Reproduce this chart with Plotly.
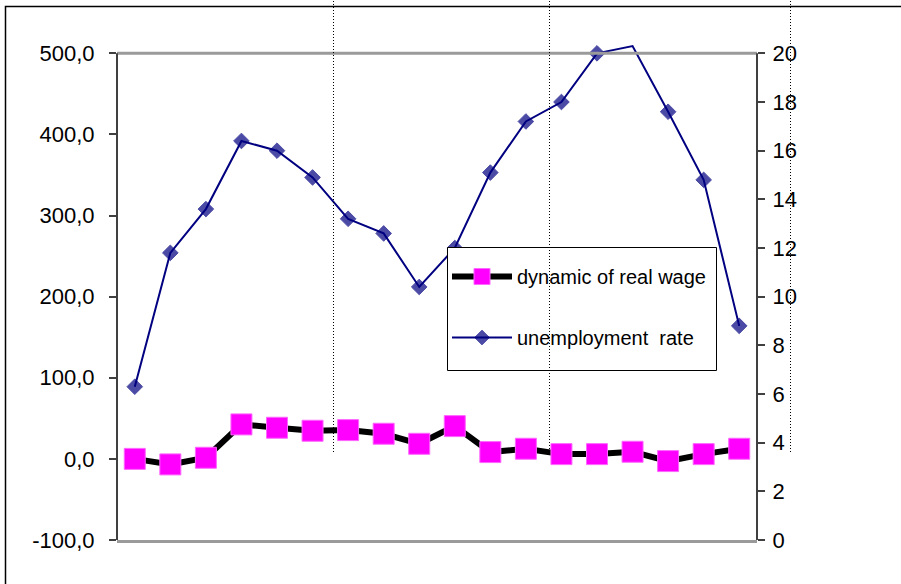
import plotly.graph_objects as go

# periods (no labels shown on the category axis)
periods = [str(i) for i in range(1, 19)]

# dynamic of real wage (left axis)
real_wage = [0.0, -6.8, 1.4, 42.5, 38.4, 34.7, 35.5, 31.0, 18.6, 40.4,
             8.4, 12.5, 5.9, 5.9, 8.8, -2.7, 5.9, 12.5]

# unemployment rate (right axis)
unemployment = [6.3, 11.8, 13.6, 16.4, 16.0, 14.9, 13.2, 12.6, 10.4, 12.0,
                15.1, 17.2, 18.0, 20.0, 20.3, 17.6, 14.8, 8.8]

# tick labels
left_ticks = [-100, 0, 100, 200, 300, 400, 500]
left_labels = ["-100,0", "0,0", "100,0", "200,0", "300,0", "400,0", "500,0"]
right_ticks = [0, 2, 4, 6, 8, 10, 12, 14, 16, 18, 20]

y1_min, y1_max = -100, 500
y2_min, y2_max = 0, 20
# small headroom above the plot frame so the line can overshoot it like the original
head = 13 / 487

# plot area in pixels (for placing frame, legend box and page guides)
L, R, T, B = 117, 757, 40, 540


def px_x(x):
    return (x - L) / (R - L)


def px_y(y):
    return (B - y) / (B - T)


tick_font = dict(family="Liberation Sans, Arial, sans-serif", size=22, color="black")

fig = go.Figure()

fig.add_trace(go.Scatter(x=periods, y=real_wage,
                         name="dynamic of real wage",
                         mode="lines+markers",
                         line=dict(color="black", width=6),
                         marker=dict(symbol="square", size=21, color="#FF00FF",
                                     line=dict(color="#FF66FF", width=1)),
                         legendgroup="a"))

fig.add_trace(go.Scatter(x=periods, y=unemployment,
                         name="unemployment  rate",
                         mode="lines+markers",
                         yaxis="y2",
                         line=dict(color="#000080", width=2),
                         marker=dict(symbol="diamond", color="#000080",
                                     line=dict(color="#000080", width=1),
                                     size=[12 if v <= y2_max else 0 for v in unemployment]),
                         legendgroup="b"))

# outer frame of the chart object
fig.add_shape(type="rect", xref="paper", yref="paper",
              x0=px_x(5.5), x1=px_x(1000), y0=px_y(700), y1=px_y(6.5),
              line=dict(color="black", width=1.5), layer="below")

# plot frame: top border and the two value axes
fig.add_shape(type="line", xref="paper", yref="y", x0=0, x1=1, y0=y1_max, y1=y1_max,
              line=dict(color="#9a9a9a", width=3))
for px_ in [0, 1]:
    fig.add_shape(type="line", xref="paper", yref="y", x0=px_, x1=px_, y0=y1_min, y1=y1_max,
                  line=dict(color="#404040", width=2))

# legend box
fig.add_shape(type="rect", xref="paper", yref="paper",
              x0=px_x(447.5), x1=px_x(716.5), y0=px_y(370.5), y1=px_y(247.5),
              fillcolor="white", line=dict(color="black", width=1), layer="above")

# dotted page guides crossing the chart
for gx in [333.5, 549.5, 790.5]:
    fig.add_shape(type="line", xref="paper", yref="paper",
                  x0=px_x(gx), x1=px_x(gx), y0=px_y(452), y1=px_y(-10),
                  line=dict(color="black", width=1, dash="1px,2px"))

fig.update_layout(width=901, height=584,
                  margin=dict(l=L, r=901 - R, t=T, b=584 - B),
                  paper_bgcolor="white", plot_bgcolor="white",
                  font=dict(family="Liberation Sans, Arial, sans-serif", size=20, color="black"),
                  showlegend=True,
                  legend=dict(x=px_x(447), y=px_y(257),
                              xanchor="left", yanchor="top",
                              bgcolor="rgba(0,0,0,0)", borderwidth=0,
                              font=dict(size=20), itemwidth=60,
                              tracegroupgap=32, traceorder="grouped"),
                  xaxis=dict(type="category", range=[-0.5, 17.5],
                             showticklabels=False, ticks="",
                             showgrid=False, zeroline=False,
                             showline=True, linecolor="#9a9a9a", linewidth=3),
                  yaxis=dict(range=[y1_min, y1_max + (y1_max - y1_min) * head / (1 - head)],
                             tickmode="array", tickvals=left_ticks, ticktext=left_labels,
                             tickfont=tick_font, ticklabelstandoff=10,
                             showgrid=False, zeroline=False, showline=False,
                             ticks="outside", ticklen=7, tickwidth=1.5, tickcolor="#404040"),
                  yaxis2=dict(range=[y2_min, y2_max + (y2_max - y2_min) * head / (1 - head)],
                              tickmode="array", tickvals=right_ticks,
                              tickfont=tick_font, ticklabelstandoff=3,
                              overlaying="y", side="right",
                              showgrid=False, zeroline=False, showline=False,
                              ticks="outside", ticklen=7, tickwidth=1.5, tickcolor="#404040"))

fig.write_html("out.html", config={"displayModeBar": False},
               post_script="document.body.style.margin='0';")
